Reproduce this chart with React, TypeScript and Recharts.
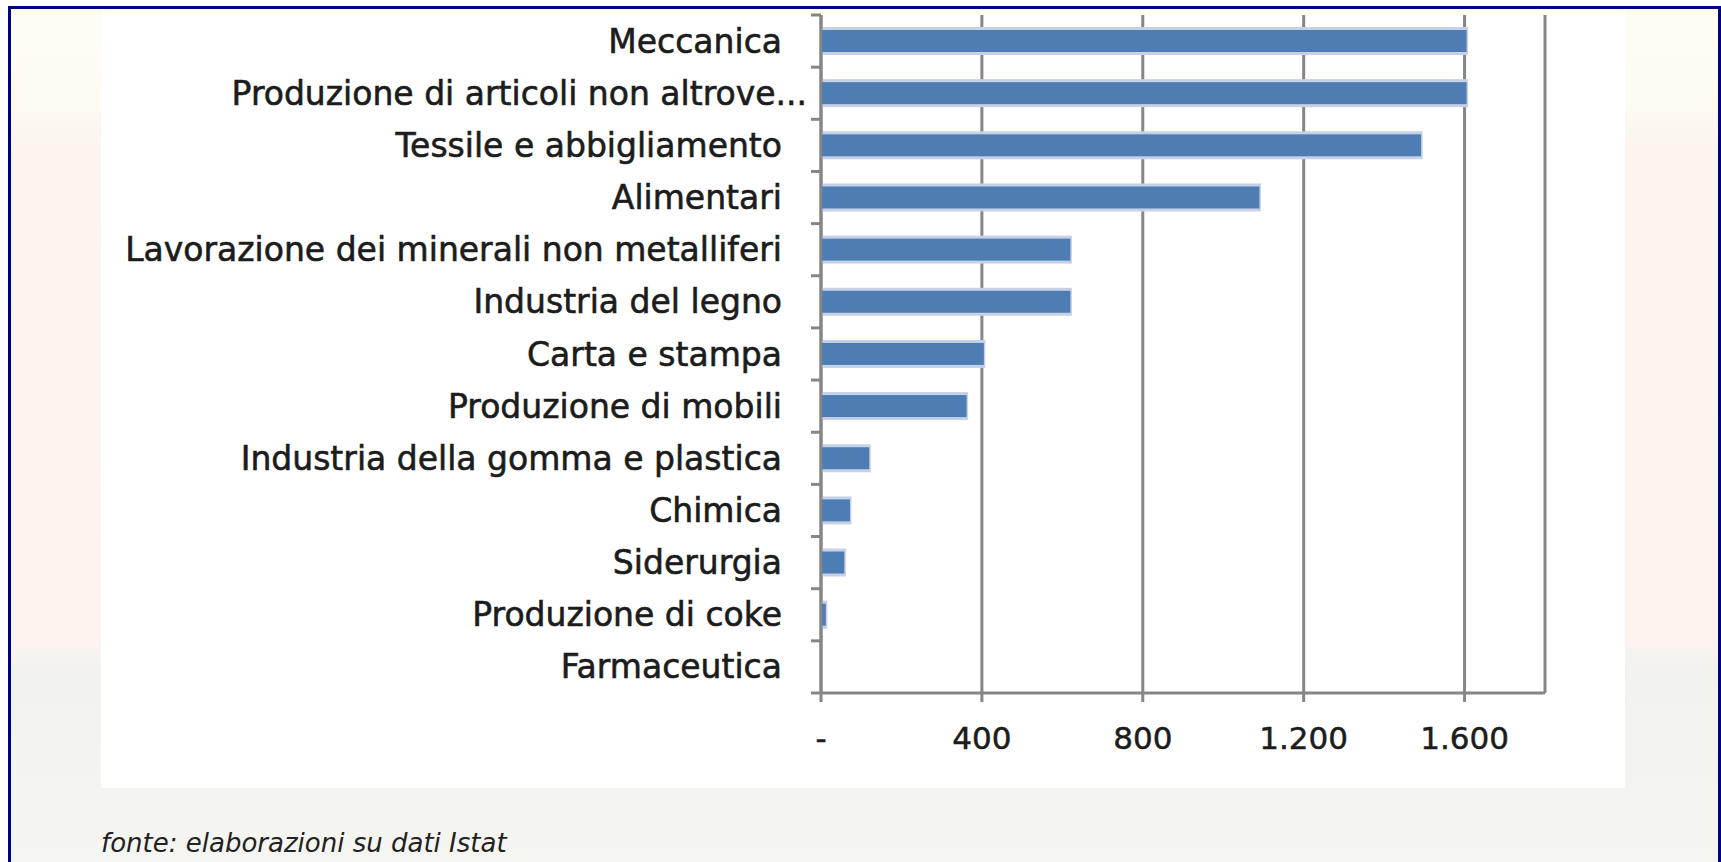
import React from 'react';
import { BarChart, Bar, XAxis, YAxis, CartesianGrid } from 'recharts';

// ---- data ----
const categories: string[] = [
  'Meccanica',
  'Produzione di articoli non altrove...',
  'Tessile e abbigliamento',
  'Alimentari',
  'Lavorazione dei minerali non metalliferi',
  'Industria del legno',
  'Carta e stampa',
  'Produzione di mobili',
  'Industria della gomma e plastica',
  'Chimica',
  'Siderurgia',
  'Produzione di coke',
  'Farmaceutica',
];
const values: number[] = [1605, 1605, 1492, 1090, 620, 620, 405, 362, 120, 72, 58, 12, 0];
const xTicks: number[] = [0, 400, 800, 1200, 1600];
const xMax = 1800;
const sourceNote = 'fonte: elaborazioni su dati Istat';

const data = categories.map((name, i) => ({ name, value: values[i] }));

// ---- layout ----
const W = 1721;
const H = 862;
const PLOT_LEFT = 821;
const PLOT_RIGHT = 1545;
const PLOT_TOP = 15;
const PLOT_BOTTOM = 693;
const XAXIS_H = 60;
const LABEL_RIGHT = 782;
const AXIS_GRAY = '#868686';
const FONT = '"DejaVu Sans", sans-serif';
const TEXT = '#1c1c1c';

const fmt = (v: number) =>
  v === 0 ? '-' : String(v).replace(/\B(?=(\d{3})+(?!\d))/g, '.');

const YTick = (props: any) => {
  const { y, payload } = props;
  const label: string = payload.value;
  const idx = categories.indexOf(label);
  const band = (PLOT_BOTTOM - PLOT_TOP) / categories.length;
  const extra = label.endsWith('...') ? 25 : 0;
  return (
    <g>
      <line x1={PLOT_LEFT - 10} x2={PLOT_LEFT} y1={y - band / 2} y2={y - band / 2} stroke={AXIS_GRAY} strokeWidth={3} />
      {idx === categories.length - 1 && (
        <line x1={PLOT_LEFT - 10} x2={PLOT_LEFT} y1={y + band / 2} y2={y + band / 2} stroke={AXIS_GRAY} strokeWidth={3} />
      )}
      <text
        x={LABEL_RIGHT + extra}
        y={y}
        textAnchor="end"
        dominantBaseline="central"
        fontFamily={FONT}
        fontSize={33}
        fill={TEXT}
        stroke={TEXT}
        strokeWidth={0.6}
      >
        {label}
      </text>
    </g>
  );
};

const XTick = (props: any) => {
  const { x, y, payload } = props;
  return (
    <text
      x={x}
      y={y}
      dy="0.71em"
      textAnchor="middle"
      fontFamily={FONT}
      fontSize={31}
      fill={TEXT}
      stroke={TEXT}
      strokeWidth={0.5}
    >
      {fmt(payload.value)}
    </text>
  );
};

const BarShape = (props: any) => {
  const { x, y, width, height } = props;
  if (!width || width <= 0) return null;
  return (
    <g>
      <rect x={x} y={y - 3} width={width + 1.5} height={height + 6} fill="#c6d1e7" />
      <rect x={x} y={y} width={width} height={height} fill="#4e7db4" />
    </g>
  );
};

export default function App() {
  return (
    <div
      style={{
        position: 'absolute',
        left: 0,
        top: 0,
        width: W,
        height: H,
        overflow: 'hidden',
        background: '#ffffff',
      }}
    >
      {/* framed background */}
      <div
        style={{
          position: 'absolute',
          left: 8,
          top: 6,
          width: W - 8,
          height: H + 20,
          boxSizing: 'border-box',
          border: '3px solid #000080',
          background:
            'linear-gradient(to bottom, #fefdf5 0%, #fdfaf2 11%, #fcf4ef 16%, #fcf3ef 72%, #f2f3ef 75%, #f5f6f2 100%)',
        }}
      />
      {/* white chart panel */}
      <div
        style={{
          position: 'absolute',
          left: 101,
          top: 9,
          width: 1625 - 101,
          height: 788 - 9,
          background: '#ffffff',
        }}
      />
      <div style={{ position: 'absolute', left: 0, top: 0 }}>
        <BarChart
          width={W}
          height={H}
          data={data}
          layout="vertical"
          margin={{ top: PLOT_TOP, right: W - PLOT_RIGHT, bottom: H - PLOT_BOTTOM - XAXIS_H, left: 0 }}
          barSize={22}
        >
          <CartesianGrid horizontal={false} vertical={true} stroke={AXIS_GRAY} strokeWidth={3} />
          <XAxis
            type="number"
            domain={[0, xMax]}
            ticks={xTicks}
            interval={0}
            height={XAXIS_H}
            axisLine={{ stroke: AXIS_GRAY, strokeWidth: 3 }}
            tickLine={{ stroke: AXIS_GRAY, strokeWidth: 3 }}
            tickSize={9}
            tickMargin={25}
            tick={<XTick />}
          />
          <YAxis
            type="category"
            dataKey="name"
            width={PLOT_LEFT}
            interval={0}
            axisLine={{ stroke: AXIS_GRAY, strokeWidth: 3 }}
            tickLine={false}
            tick={<YTick />}
          />
          <Bar dataKey="value" isAnimationActive={false} shape={<BarShape />} />
        </BarChart>
      </div>
      <div
        style={{
          position: 'absolute',
          left: 101,
          top: 830,
          fontFamily: FONT,
          fontStyle: 'italic',
          fontSize: 26,
          lineHeight: 1,
          color: '#222222',
          whiteSpace: 'nowrap',
        }}
      >
        {sourceNote}
      </div>
    </div>
  );
}
